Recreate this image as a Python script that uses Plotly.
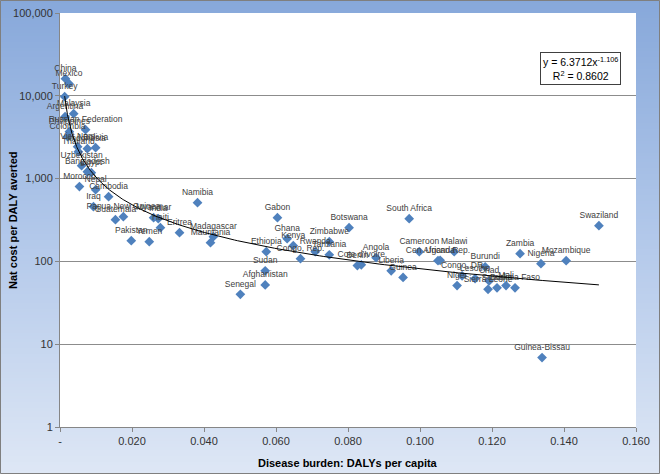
import numpy as np
import plotly.graph_objects as go

countries = ["China", "Mexico", "Turkey", "Argentina", "Malaysia", "Philippines", "Colombia",
             "Russian Federation", "Viet Nam", "Indonesia", "Bolivia", "Thailand", "Uzbekistan",
             "Bangladesh", "Egypt", "Morocco", "Nepal", "Cambodia", "Iraq", "Papua New Guinea",
             "Guatemala", "Myanmar", "India", "Haiti", "Eritrea", "Pakistan", "Yemen",
             "Madagascar", "Mauritania", "Namibia", "Senegal", "Gabon", "Ghana", "Kenya",
             "Ethiopia", "Sudan", "Afghanistan", "Congo, Rep.", "Rwanda", "Zimbabwe", "Tanzania",
             "Botswana", "Benin", "Cote d'Ivoire", "Angola", "Liberia", "Guinea", "South Africa",
             "Cameroon", "Cen African Rep.", "Uganda", "Malawi", "Congo, DR", "Niger", "Lesotho",
             "Burundi", "Chad", "Sierra Leone", "Somalia", "Mali", "Burkina Faso", "Zambia",
             "Nigeria", "Mozambique", "Swaziland", "Guinea-Bissau"]

dalys_per_capita = [0.0015, 0.0025, 0.0013, 0.0014, 0.0038, 0.0026, 0.0021,
                    0.0071, 0.0049, 0.0076, 0.0099, 0.0051, 0.0060,
                    0.0076, 0.0087, 0.0054, 0.0099, 0.0135, 0.0093, 0.0176,
                    0.0154, 0.0260, 0.0273, 0.0279, 0.0332, 0.0198, 0.0248,
                    0.0426, 0.0418, 0.0382, 0.0501, 0.0604, 0.0631, 0.0648,
                    0.0573, 0.0570, 0.0570, 0.0668, 0.0709, 0.0748, 0.0748,
                    0.0803, 0.0826, 0.0837, 0.0878, 0.0920, 0.0953, 0.0970,
                    0.0998, 0.1050, 0.1056, 0.1095, 0.1117, 0.1103, 0.1153,
                    0.1181, 0.1192, 0.1189, 0.1214, 0.1239, 0.1264, 0.1278,
                    0.1336, 0.1406, 0.1497, 0.1339]

cost_per_daly = [16100, 14000, 9750, 5600, 6080, 3690, 3210,
                 3900, 2430, 2300, 2360, 2110, 1430,
                 1210, 1180, 800, 735, 604, 458, 347,
                 319, 337, 328, 255, 222, 178, 173,
                 199, 168, 512, 40, 337, 188, 155,
                 131, 77, 52, 108, 131, 173, 120,
                 255, 89, 91, 111, 77, 64, 328,
                 131, 102, 103, 131, 67, 51, 62,
                 86, 58, 46, 48, 51, 48, 124,
                 94, 102, 270, 6.9]

x_tick_vals = [0, 0.02, 0.04, 0.06, 0.08, 0.10, 0.12, 0.14, 0.16]
x_tick_text = ["-", "0.020", "0.040", "0.060", "0.080", "0.100", "0.120", "0.140", "0.160"]
y_tick_vals = [1, 10, 100, 1000, 10000, 100000]
y_tick_text = ["1", "10", "100", "1,000", "10,000", "100,000"]

fit_coef = 6.3712
fit_exp = -1.106
fit_r2 = 0.8602

x_fit = np.geomspace(min(dalys_per_capita), max(dalys_per_capita), 300)
y_fit = fit_coef * x_fit ** fit_exp

FONT = "Liberation Sans"
W, H = 660, 474
PL, PR, PT, PB = 60, 636, 13, 427   # plot-area edges in pixels


def fx(px):
    return px / W


def fy(py):
    return 1 - py / H


fig = go.Figure()

# background gradient (decoration) on a full-figure helper axis in pixel units
n_rows = 158
row_y = [H * (i + 0.5) / n_rows for i in range(n_rows)]
fig.add_trace(go.Heatmap(
    x=[0, W], y=row_y, z=[[v, v] for v in row_y], zmin=0, zmax=H,
    colorscale=[[0, "rgb(135,168,218)"], [0.5, "rgb(178,200,234)"], [1, "rgb(222,231,245)"]],
    showscale=False, hoverinfo="skip", xaxis="x", yaxis="y",
))
# outer frame line and white plot area on the helper axis
fig.add_trace(go.Scatter(
    x=[0.5, W - 0.5, W - 0.5, 0.5, 0.5], y=[0.5, 0.5, H - 0.5, H - 0.5, 0.5], mode="lines",
    line=dict(color="rgb(127,127,127)", width=1), hoverinfo="skip", showlegend=False,
    xaxis="x", yaxis="y",
))
fig.add_trace(go.Scatter(
    x=[PL, PR, PR, PL, PL], y=[PT, PT, PB, PB, PT], mode="lines", fill="toself",
    fillcolor="rgb(255,255,255)", line=dict(width=0), hoverinfo="skip", showlegend=False,
    xaxis="x", yaxis="y",
))

fig.add_trace(go.Scatter(
    x=dalys_per_capita, y=cost_per_daly, text=countries,
    mode="markers+text", textposition="top center",
    textfont=dict(family=FONT, size=8.5, color="rgb(64,64,64)"),
    marker=dict(symbol="diamond", size=7.5, color="rgb(79,129,189)"),
    showlegend=False, cliponaxis=False, xaxis="x2", yaxis="y2",
))
fig.add_trace(go.Scatter(
    x=x_fit, y=y_fit, mode="lines",
    line=dict(color="black", width=1), showlegend=False, xaxis="x2", yaxis="y2",
))

fig.update_layout(
    width=W, height=H, showlegend=False,
    margin=dict(l=0, r=0, t=0, b=0, pad=0),
    paper_bgcolor="rgb(178,200,234)", plot_bgcolor="rgba(0,0,0,0)",
    font=dict(family=FONT, size=11, color="rgb(51,51,51)"),
    xaxis=dict(domain=[0, 1], range=[0, W], visible=False, fixedrange=True),
    yaxis=dict(domain=[0, 1], range=[H, 0], visible=False, fixedrange=True),
    xaxis2=dict(domain=[fx(PL), fx(PR)], anchor="y2", range=[0, 0.16],
                tickvals=x_tick_vals, ticktext=x_tick_text,
                ticks="outside", ticklen=4, tickcolor="rgb(134,134,134)", automargin=False,
                showline=True, linecolor="rgb(134,134,134)", linewidth=1,
                showgrid=False, zeroline=False,
                tickfont=dict(size=11, color="rgb(51,51,51)")),
    yaxis2=dict(domain=[fy(PB), fy(PT)], anchor="x2", type="log", range=[0, 5],
                tickvals=y_tick_vals, ticktext=y_tick_text,
                ticks="outside", ticklen=4, tickcolor="rgb(134,134,134)", automargin=False,
                showline=True, linecolor="rgb(134,134,134)", linewidth=1,
                showgrid=True, gridcolor="rgb(140,140,140)", gridwidth=1, zeroline=False,
                tickfont=dict(size=11, color="rgb(51,51,51)")),
    annotations=[
        dict(text="<b>Disease burden: DALYs per capita</b>", xref="paper", yref="paper",
             x=fx((PL + PR) / 2), y=fy(463), xanchor="center", yanchor="middle",
             showarrow=False, font=dict(size=11, color="black")),
        dict(text="<b>Nat cost per DALY averted</b>", xref="paper", yref="paper",
             x=fx(13), y=fy((PT + PB) / 2), xanchor="center", yanchor="middle", textangle=-90,
             showarrow=False, font=dict(size=11, color="black")),
        dict(text=f"y = {fit_coef}x<sup>{fit_exp}</sup><br>R<sup>2</sup> = {fit_r2}",
             xref="paper", yref="paper", x=fx(580), y=fy(68),
             xanchor="center", yanchor="middle", showarrow=False, align="center",
             bgcolor="rgb(255,255,255)", bordercolor="rgb(64,64,64)", borderwidth=1, borderpad=2,
             font=dict(size=10.5, color="black")),
    ],
)

fig.write_html("out.html", config={"displayModeBar": False},
               post_script="document.body.style.margin='0';")
